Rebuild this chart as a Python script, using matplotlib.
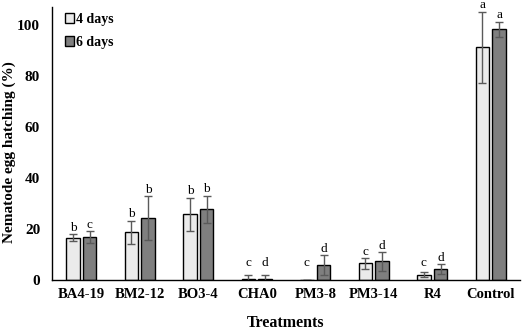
import matplotlib
matplotlib.use('Agg')
import matplotlib.pyplot as plt
import numpy as np

plt.rcParams['font.family'] = ['Liberation Serif', 'DejaVu Serif']

treatments = ['BA4-19', 'BM2-12', 'BO3-4', 'CHA0', 'PM3-8', 'PM3-14', 'R4', 'Control']
day4 = [16.6, 18.7, 25.8, 0.5, 0.0, 6.5, 2.0, 91.2]
day4_err = [1.3, 4.6, 6.5, 1.3, 0.0, 2.0, 1.0, 14.0]
day6 = [16.9, 24.3, 27.8, 0.5, 5.8, 7.3, 4.2, 98.3]
day6_err = [2.3, 8.6, 5.3, 1.3, 4.0, 3.6, 2.0, 3.0]
day4_letters = ['b', 'b', 'b', 'c', 'c', 'c', 'c', 'a']
day6_letters = ['c', 'b', 'b', 'd', 'd', 'd', 'd', 'a']

fig = plt.figure(figsize=(5.27, 3.36), dpi=100)
ax = fig.add_axes([0.0987, 0.1667, 0.888, 0.8125])

x = np.arange(len(treatments))
w = 0.23
off = 0.143
err_kw = dict(ecolor='#5a5a5a', elinewidth=1.0, capsize=2.8, capthick=1.0)

ax.bar(x - off, day4, w, yerr=day4_err, color='#ebebeb', edgecolor='black',
       linewidth=1.0, error_kw=err_kw, label='4 days')
ax.bar(x + off, day6, w, yerr=day6_err, color='#7f7f7f', edgecolor='black',
       linewidth=1.0, error_kw=err_kw, label='6 days')

# significance letters above error bars
for xs, means, errs, letters in [(x - off, day4, day4_err, day4_letters),
                                 (x + off, day6, day6_err, day6_letters)]:
    for xi, m, e, lt in zip(xs, means, errs, letters):
        top = max(m + e, 4)
        ax.annotate(lt, (xi, top), xytext=(0, 2.5), textcoords='offset points',
                    ha='center', va='baseline', fontsize=9.5, annotation_clip=False)

ax.set_xlim(-0.5, len(treatments) - 0.5)
ax.set_ylim(0, 107)
ax.set_yticks([0, 20, 40, 60, 80, 100])
ax.set_xticks(x)
ax.set_xticklabels(treatments, fontsize=10.5, fontweight='bold')
for lab in ax.get_yticklabels():
    lab.set_fontsize(11)
    lab.set_fontweight('bold')
ax.tick_params(axis='x', length=0, pad=6)
ax.tick_params(axis='y', length=0, pad=8.5)

for s in ['top', 'right']:
    ax.spines[s].set_visible(False)
ax.spines['left'].set_linewidth(1.0)
ax.spines['bottom'].set_linewidth(1.0)

ax.set_ylabel('Nematode egg hatching (%)', fontsize=11, fontweight='bold')
ax.yaxis.set_label_coords(-0.076, 0.47)
ax.set_xlabel('Treatments', fontsize=11.5, fontweight='bold', labelpad=10)

ax.legend(loc='upper left', bbox_to_anchor=(0.0, 1.025), frameon=False,
          handlelength=0.7, handleheight=0.7, handletextpad=0.1,
          labelspacing=0.75, prop={'weight': 'bold', 'size': 10})

fig.savefig('out.png', dpi=100)
